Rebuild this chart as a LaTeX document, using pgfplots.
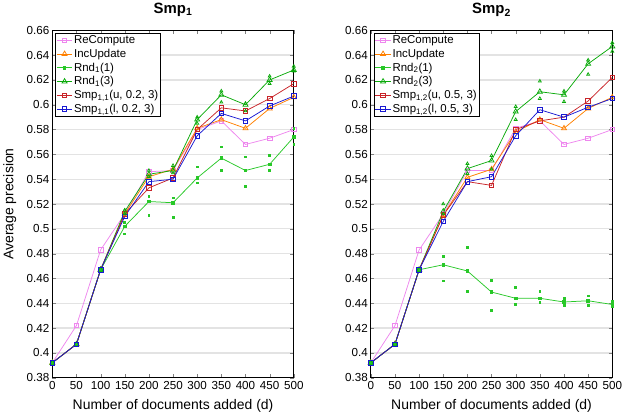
\documentclass[border=0pt]{standalone}
\usepackage{fontspec}
\setmainfont{Liberation Sans}
\usepackage{pgfplots}
\pgfplotsset{compat=1.18}
\definecolor{cRe}{RGB}{238,135,238}
\definecolor{cInc}{RGB}{255,128,0}
\definecolor{cR1}{RGB}{40,200,40}
\definecolor{cR3}{RGB}{10,170,10}
\definecolor{cSu}{RGB}{200,35,40}
\definecolor{cSl}{RGB}{25,25,210}
\pgfplotsset{
  myaxis/.style={
    scale only axis, width=242.6pt, height=349pt,
    xmin=0, xmax=500, ymin=0.38, ymax=0.66,
    xtick={0,50,...,500}, ytick={0.38,0.40,...,0.661},
    yticklabel style={/pgf/number format/fixed,/pgf/number format/precision=2, xshift=0.5pt},
    xticklabel style={yshift=0pt, inner xsep=0pt},
    /pgf/number format/assume math mode=true,
    font=\fontsize{11.7}{13}\selectfont,
    tick align=inside, major tick length=3.5pt,
    ymajorgrids, major grid style={black!11, line width=1.3pt},
    axis line style={line width=0.7pt},
    xlabel={Number of documents added (d)},
    label style={font=\fontsize{14}{16}\selectfont},
    xlabel style={yshift=-3pt},
    title style={font=\fontsize{15}{17}\selectfont\bfseries, yshift=4pt},
    legend style={at={(0.012,0.993)}, anchor=north west, draw=black, line width=0.7pt,
      font=\fontsize{11.5}{13}\selectfont, inner sep=1pt, row sep=1pt,
      nodes={inner sep=1.5pt}},
    legend cell align=left,
    every axis plot/.append style={line width=0.75pt,
      legend image code/.code={\draw[mark repeat=2,mark phase=2] plot coordinates {(0cm,0cm)(0.27cm,0cm)(0.54cm,0cm)};}},
  },
  pRe/.style={color=cRe, mark=square, mark size=2.3pt},
  pInc/.style={color=cInc, mark=triangle, mark size=2.9pt},
  pR1/.style={color=cR1, mark=square*, mark size=1.3pt},
  pR3/.style={color=cR3, mark=triangle, mark size=2.9pt},
  pSu/.style={color=cSu, mark=square, mark size=2.3pt},
  pSl/.style={color=cSl, mark=square, mark size=2.3pt},
  sR1/.style={color=cR1, only marks, mark=square*, mark size=0.9pt, forget plot},
  sR3/.style={color=cR3, only marks, mark=triangle, mark size=1.7pt, forget plot},
}
\begin{document}
\begin{tikzpicture}
\begin{axis}[myaxis, at={(0pt,0pt)}, ylabel={Average precision}, ylabel style={yshift=3.5pt},
  title={Smp\textsubscript{1}}]
\addplot[pRe] coordinates {(0,0.392)(50,0.422)(100,0.483)(150,0.512)(200,0.546)(250,0.547)(300,0.580)(350,0.587)(400,0.568)(450,0.573)(500,0.580)};
\addlegendentry{ReCompute}
\addplot[pInc] coordinates {(0,0.392)(50,0.407)(100,0.467)(150,0.512)(200,0.542)(250,0.548)(300,0.581)(350,0.588)(400,0.581)(450,0.597)(500,0.606)};
\addlegendentry{IncUpdate}
\addplot[pR1] coordinates {(0,0.392)(50,0.407)(100,0.467)(150,0.502)(200,0.522)(250,0.521)(300,0.541)(350,0.557)(400,0.547)(450,0.552)(500,0.574)};
\addlegendentry{Rnd\textsubscript{1}(1)}
\addplot[pR3] coordinates {(0,0.392)(50,0.407)(100,0.467)(150,0.514)(200,0.544)(250,0.547)(300,0.588)(350,0.608)(400,0.600)(450,0.620)(500,0.628)};
\addlegendentry{Rnd\textsubscript{1}(3)}
\addplot[pSu] coordinates {(0,0.392)(50,0.407)(100,0.467)(150,0.512)(200,0.533)(250,0.541)(300,0.580)(350,0.5975)(400,0.595)(450,0.605)(500,0.617)};
\addlegendentry{Smp\textsubscript{1,1}(u, 0.2, 3)}
\addplot[pSl] coordinates {(0,0.392)(50,0.407)(100,0.467)(150,0.510)(200,0.538)(250,0.540)(300,0.575)(350,0.593)(400,0.587)(450,0.599)(500,0.607)};
\addlegendentry{Smp\textsubscript{1,1}(l, 0.2, 3)}
\addplot[sR1] coordinates {(150,0.505)(150,0.496)(200,0.526)(200,0.511)(250,0.525)(250,0.509)(300,0.550)(300,0.537)(350,0.566)(350,0.547)(400,0.558)(400,0.534)(450,0.559)(450,0.547)(500,0.581)(500,0.568)};
\addplot[sR3] coordinates {(150,0.515)(150,0.512)(200,0.547)(200,0.542)(250,0.551)(250,0.545)(300,0.590)(300,0.585)(350,0.611)(350,0.602)(400,0.601)(400,0.595)(450,0.623)(450,0.617)(500,0.631)(500,0.627)};
\end{axis}
\begin{axis}[myaxis, at={(320pt,0pt)}, title={Smp\textsubscript{2}}]
\addplot[pRe] coordinates {(0,0.392)(50,0.422)(100,0.483)(150,0.512)(200,0.547)(250,0.547)(300,0.581)(350,0.587)(400,0.568)(450,0.573)(500,0.580)};
\addlegendentry{ReCompute}
\addplot[pInc] coordinates {(0,0.392)(50,0.407)(100,0.467)(150,0.511)(200,0.5415)(250,0.548)(300,0.578)(350,0.588)(400,0.581)(450,0.597)(500,0.606)};
\addlegendentry{IncUpdate}
\addplot[pR1] coordinates {(0,0.392)(50,0.407)(100,0.467)(150,0.471)(200,0.466)(250,0.449)(300,0.444)(350,0.444)(400,0.441)(450,0.442)(500,0.439)};
\addlegendentry{Rnd\textsubscript{2}(1)}
\addplot[pR3] coordinates {(0,0.392)(50,0.407)(100,0.467)(150,0.514)(200,0.5485)(250,0.555)(300,0.5945)(350,0.6105)(400,0.608)(450,0.633)(500,0.647)};
\addlegendentry{Rnd\textsubscript{2}(3)}
\addplot[pSu] coordinates {(0,0.392)(50,0.407)(100,0.467)(150,0.511)(200,0.538)(250,0.535)(300,0.580)(350,0.587)(400,0.590)(450,0.603)(500,0.622)};
\addlegendentry{Smp\textsubscript{1,2}(u, 0.5, 3)}
\addplot[pSl] coordinates {(0,0.392)(50,0.407)(100,0.467)(150,0.506)(200,0.538)(250,0.542)(300,0.575)(350,0.596)(400,0.590)(450,0.598)(500,0.605)};
\addlegendentry{Smp\textsubscript{1,2}(l, 0.5, 3)}
\addplot[sR1] coordinates {(150,0.478)(150,0.458)(200,0.485)(200,0.4495)(250,0.4585)(250,0.434)(300,0.453)(300,0.439)(350,0.4495)(350,0.441)(400,0.444)(400,0.438)(450,0.446)(450,0.438)(500,0.4415)(500,0.4375)};
\addplot[sR3] coordinates {(150,0.520)(150,0.512)(200,0.5525)(200,0.5445)(250,0.559)(250,0.548)(300,0.5985)(300,0.588)(350,0.619)(350,0.605)(400,0.611)(400,0.6025)(450,0.636)(450,0.6245)(500,0.650)(500,0.643)};
\end{axis}
\end{tikzpicture}
\end{document}
